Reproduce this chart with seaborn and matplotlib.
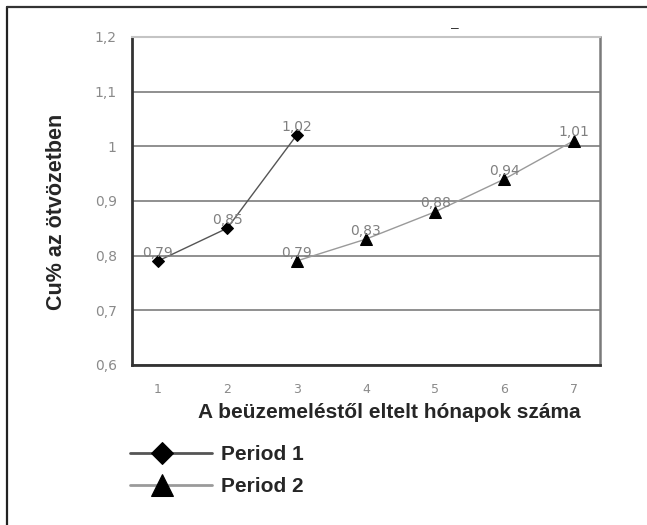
import matplotlib
matplotlib.use("Agg")
import matplotlib.pyplot as plt
import seaborn as sns
import numpy as np
import pandas as pd
from matplotlib.lines import Line2D
from matplotlib.legend_handler import HandlerLine2DCompound

# data
months_p1 = [1, 2, 3]
cu_p1 = [0.79, 0.85, 1.02]
months_p2 = [3, 4, 5, 6, 7]
cu_p2 = [0.79, 0.83, 0.88, 0.94, 1.01]
yticks = [0.6, 0.7, 0.8, 0.9, 1.0, 1.1, 1.2]
ytick_labels = ["0,6", "0,7", "0,8", "0,9", "1", "1,1", "1,2"]
xticks = [1, 2, 3, 4, 5, 6, 7]


class LeftMarker(HandlerLine2DCompound):
    # legend marker sits near the left end of the line, as in the original
    def get_xdata(self, legend, xdescent, ydescent, width, height, fontsize):
        xdata, _ = super().get_xdata(legend, xdescent, ydescent, width, height, fontsize)
        return xdata, np.array([-xdescent + 0.39 * width])


sns.set_style("white")
plt.rcParams["font.family"] = ["Liberation Sans", "DejaVu Sans"]

fig = plt.figure(figsize=(6.47, 5.25), dpi=100)
ax = fig.add_axes([0.204, 0.305, 0.723, 0.6248])

df1 = pd.DataFrame({"month": months_p1, "cu": cu_p1})
df2 = pd.DataFrame({"month": months_p2, "cu": cu_p2})

sns.lineplot(data=df1, x="month", y="cu", ax=ax, color="#555555", lw=1,
             marker="D", markersize=6, markerfacecolor="black",
             markeredgecolor="black", label="Period 1", zorder=3)
sns.lineplot(data=df2, x="month", y="cu", ax=ax, color="#9a9a9a", lw=1,
             marker="^", markersize=8, markerfacecolor="black",
             markeredgecolor="black", label="Period 2", zorder=3)

# data labels
for x, y in zip(months_p1 + months_p2, cu_p1 + cu_p2):
    ax.annotate(f"{y:.2f}".replace(".", ","), (x, y), xytext=(0, 1),
                textcoords="offset points", ha="center", va="bottom",
                fontsize=10, color="#808080", family="DejaVu Sans", zorder=4)

ax.set_xlim(0.625, 7.375)
ax.set_ylim(0.6, 1.2)
ax.set_yticks(yticks)
ax.set_yticklabels(ytick_labels)
ax.set_xticks(xticks)
ax.tick_params(axis="y", length=0, labelsize=10, labelcolor="#8a8a8a", pad=11)
ax.tick_params(axis="x", direction="inout", length=6, width=1, color="#555555",
               labelsize=9, labelcolor="#8a8a8a", pad=10)
for lab in ax.get_xticklabels() + ax.get_yticklabels():
    lab.set_family("DejaVu Sans")
ax.yaxis.grid(True, color="#8f8f8f", lw=1.4)
ax.xaxis.grid(False)
ax.set_axisbelow(True)

for s in ["left", "bottom"]:
    ax.spines[s].set_color("#333333")
    ax.spines[s].set_linewidth(2)
ax.spines["top"].set_color("#c4c4c4")
ax.spines["top"].set_linewidth(1.5)
ax.spines["right"].set_color("#7a7a7a")
ax.spines["right"].set_linewidth(1.8)

ax.set_xlabel("A beüzemeléstől eltelt hónapok száma", fontsize=15,
              fontweight="bold")
ax.set_ylabel("Cu% az ötvözetben", fontsize=15.5, fontweight="bold")
ax.xaxis.set_label_coords(0.551, -0.115)
ax.yaxis.set_label_coords(-0.139, 0.466)

handles, labels = ax.get_legend_handles_labels()
ax.get_legend().remove()
leg = fig.legend(handles, labels, loc="upper left",
                 bbox_to_anchor=(0.201, 0.152), frameon=False,
                 prop={"weight": "bold", "size": 15}, handlelength=3.94,
                 handletextpad=0.43, labelspacing=0.62, markerscale=1.9,
                 borderpad=0, borderaxespad=0,
                 handler_map={Line2D: LeftMarker()})
for h in leg.legend_handles:
    h.set_linewidth(2)

# stray dash at the top of the original
fig.text(0.703, 0.946, "–", fontsize=10, color="#333333", ha="center", va="center")

# top and left frame lines of the original picture
fig.add_artist(Line2D([0.0108, 0.0108], [0, 0.9867], transform=fig.transFigure,
                      color="#222222", lw=1.6))
fig.add_artist(Line2D([0.0108, 1], [0.9867, 0.9867], transform=fig.transFigure,
                      color="#333333", lw=1.6))

fig.savefig("out.png", dpi=100)
